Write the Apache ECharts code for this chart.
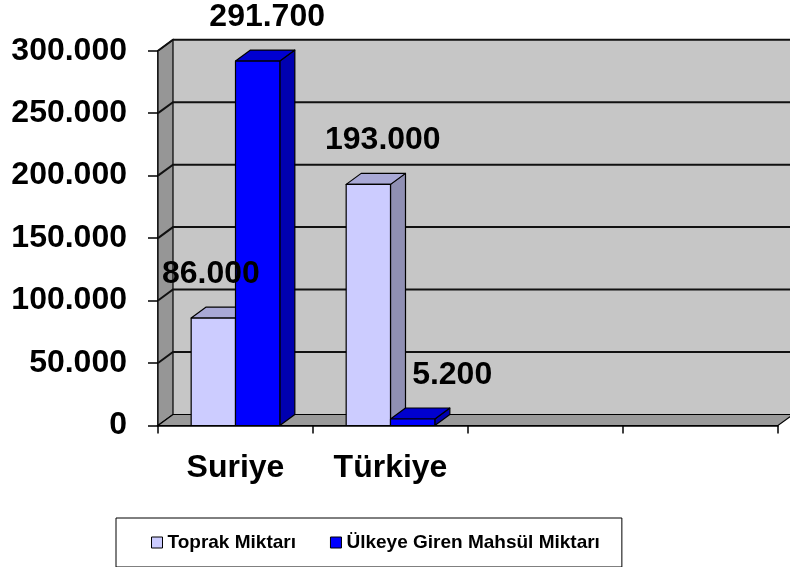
<!DOCTYPE html>
<html><head><meta charset="utf-8">
<script src="https://cdn.jsdelivr.net/npm/echarts@6/dist/echarts.min.js"></script>
<style>html,body{margin:0;padding:0;background:#fff}#c{width:790px;height:567px}</style>
</head><body><div id="c"></div>
<script>
// ---- data ----
const categories = ['Suriye', 'Türkiye', '', ''];
const seriesNames = ['Toprak Miktarı', 'Ülkeye Giren Mahsül Miktarı'];
const toprakValues = [86000, 193000, null, null];
const mahsulValues = [291700, 5200, null, null];
const yTickValues = [0, 50000, 100000, 150000, 200000, 250000, 300000];

// ---- style ----
const DX = 15, DY = -11;
const FONT = '"Liberation Sans", Arial, sans-serif';
const palette = [
  { front: '#ccccff', side: '#8f8fb3', top: '#a9a9d6' },
  { front: '#0000ff', side: '#0000b0', top: '#0000d0' }
];
const labelNudgeX = [[-10, 7, 0, 0], [2, 32, 0, 0]];
const BAR_FRAC = 0.286;

function fmt(n) { return String(n).replace(/\B(?=(\d{3})+(?!\d))/g, '.'); }

function barGeom(si, api) {
  const cat = api.value(0), v = api.value(1);
  const band = api.size([1, 0])[0];
  const w = band * BAR_FRAC;
  const base = api.coord([cat, 0]);
  const tp = api.coord([cat, v]);
  const x0 = base[0] - w + si * w;
  return { x0: x0, x1: x0 + w, w: w, yb: base[1], yt: tp[1], v: v, cat: cat };
}

function barRender(si) {
  return function (params, api) {
    const v = api.value(1);
    if (v == null || isNaN(v)) return;
    const g = barGeom(si, api);
    const c = palette[si];
    const st = { stroke: '#000', lineWidth: 1.2, lineJoin: 'round' };
    return {
      type: 'group', children: [
        { type: 'polygon', shape: { points: [[g.x1, g.yb], [g.x1 + DX, g.yb + DY], [g.x1 + DX, g.yt + DY], [g.x1, g.yt]] }, style: Object.assign({ fill: c.side }, st) },
        { type: 'polygon', shape: { points: [[g.x0, g.yt], [g.x0 + DX, g.yt + DY], [g.x1 + DX, g.yt + DY], [g.x1, g.yt]] }, style: Object.assign({ fill: c.top }, st) },
        { type: 'rect', shape: { x: g.x0, y: g.yt, width: g.w, height: g.yb - g.yt }, style: Object.assign({ fill: c.front }, st) }
      ]
    };
  };
}

function labelRender(si) {
  return function (params, api) {
    const v = api.value(1);
    if (v == null || isNaN(v)) return;
    const g = barGeom(si, api);
    const x = g.x0 + g.w / 2 + DX / 2 + labelNudgeX[si][g.cat];
    const y = g.yt + DY - 33;
    return {
      type: 'text', x: x, y: y,
      style: { text: fmt(v), fill: '#000', font: 'bold 32px ' + FONT, align: 'center', verticalAlign: 'middle' }
    };
  };
}

function wallRender(params, api) {
  const cs = params.coordSys;
  const v = api.value(1);
  const y = api.coord([0, v])[1];
  const x0 = cs.x, x1 = cs.x + cs.width;
  const children = [];
  if (params.dataIndex === 0) {
    const yTop = api.coord([0, yTickValues[yTickValues.length - 1]])[1];
    children.push({ type: 'rect', z2: 0, shape: { x: x0 + DX, y: yTop + DY, width: x1 - x0, height: y - yTop }, style: { fill: '#c6c6c6', stroke: 'none' } });
    children.push({ type: 'polygon', z2: 1, shape: { points: [[x0, y], [x0, yTop], [x0 + DX, yTop + DY], [x0 + DX, y + DY]] }, style: { fill: '#969696', stroke: '#000', lineWidth: 1.2 } });
    children.push({ type: 'polygon', z2: 1, shape: { points: [[x0, y], [x1, y], [x1 + DX, y + DY], [x0 + DX, y + DY]] }, style: { fill: '#9a9a9a', stroke: '#000', lineWidth: 1.2 } });
  } else {
    children.push({ type: 'polyline', z2: 2, shape: { points: [[x0, y], [x0 + DX, y + DY], [x1 + DX, y + DY]] }, style: { stroke: '#111', lineWidth: 2, fill: null } });
  }
  return { type: 'group', children: children };
}

const chart = echarts.init(document.getElementById('c'), null, { renderer: 'canvas' });
const seriesData = [toprakValues, mahsulValues];
const series = [{
  type: 'custom', name: '_wall', z: 1, silent: true, clip: false,
  renderItem: wallRender, encode: { x: 0, y: 1 },
  data: yTickValues.map(function (v) { return [0, v]; })
}];
seriesData.forEach(function (arr, si) {
  series.push({
    type: 'custom', name: seriesNames[si], z: 2, clip: false,
    itemStyle: { color: palette[si].front },
    renderItem: barRender(si), encode: { x: 0, y: 1 },
    data: arr.map(function (v, i) { return [i, v]; })
  });
});
seriesData.forEach(function (arr, si) {
  series.push({
    type: 'custom', name: seriesNames[si], z: 5, clip: false, silent: true,
    itemStyle: { color: palette[si].front },
    renderItem: labelRender(si), encode: { x: 0, y: 1 },
    data: arr.map(function (v, i) { return [i, v]; })
  });
});

chart.setOption({
  animation: false,
  backgroundColor: '#fff',
  grid: { left: 158, right: 12, top: 50.7, bottom: 141.5 },
  xAxis: {
    type: 'category', data: categories, boundaryGap: true,
    axisLine: { show: true, lineStyle: { color: '#000', width: 1.5 } },
    axisTick: { show: true, length: 8, alignWithLabel: false, lineStyle: { color: '#000', width: 1.5 } },
    axisLabel: { color: '#000', fontFamily: FONT, fontWeight: 'bold', fontSize: 32, margin: 27, interval: 0 },
    splitLine: { show: false }
  },
  yAxis: {
    type: 'value', min: 0, max: 300000, interval: 50000,
    axisLine: { show: true, lineStyle: { color: '#000', width: 1.5 } },
    axisTick: { show: true, length: 10, lineStyle: { color: '#000', width: 1.5 } },
    axisLabel: { color: '#000', fontFamily: FONT, fontWeight: 'bold', fontSize: 32, margin: 31, padding: [6, 0, 0, 0], formatter: function (v) { return fmt(v); } },
    splitLine: { show: false }
  },
  legend: {
    data: seriesNames.map(function (n, i) { return { name: n, itemStyle: { color: palette[i].front, borderColor: '#000', borderWidth: 1 } }; }),
    left: 116, top: 518, orient: 'horizontal',
    icon: 'rect', itemWidth: 11, itemHeight: 11, itemGap: 34,
    padding: [15, 22, 15, 35], borderColor: '#000', borderWidth: 1,
    textStyle: { color: '#000', fontFamily: FONT, fontWeight: 'bold', fontSize: 19 }
  },
  series: series
});
</script>
</body></html>
